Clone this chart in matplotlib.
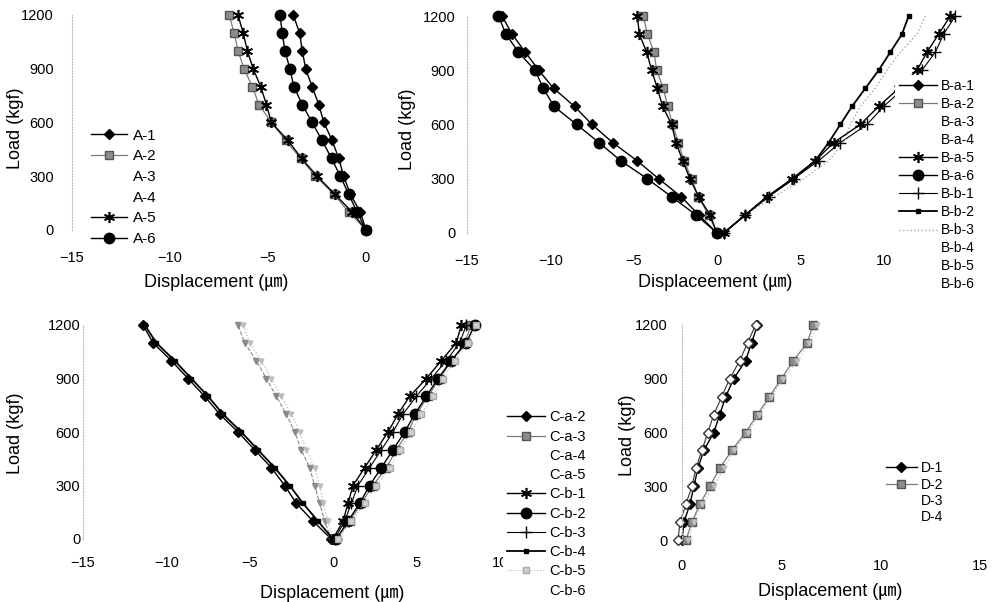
import matplotlib
matplotlib.use("Agg")
import matplotlib.pyplot as plt
from matplotlib.lines import Line2D

plt.rcParams['font.family'] = ['Liberation Sans', 'Noto Sans CJK KR', 'DejaVu Sans']

W, H = 992, 602

# ---------------- data ----------------
loads = [0, 100, 200, 300, 400, 500, 600, 700, 800, 900, 1000, 1100, 1200]
load_ticks = [0, 300, 600, 900, 1200]

# Panel A
a_labels = ['A-1', 'A-2', 'A-3', 'A-4', 'A-5', 'A-6']
a_1 = [0, -0.29, -0.80, -1.14, -1.39, -1.73, -2.15, -2.41, -2.75, -3.08, -3.25, -3.39, -3.71]
a_2 = [0, -0.88, -1.64, -2.58, -3.34, -4.10, -4.83, -5.46, -5.80, -6.22, -6.53, -6.73, -6.98]
a_5 = [0, -0.71, -1.59, -2.49, -3.29, -3.98, -4.83, -5.08, -5.37, -5.76, -6.05, -6.27, -6.53]
a_6 = [0, -0.46, -0.88, -1.31, -1.76, -2.24, -2.75, -3.25, -3.68, -3.88, -4.14, -4.27, -4.39]
a_xticks = [-15, -10, -5, 0]

# Panel B
b_labels = ['B-a-1', 'B-a-2', 'B-a-3', 'B-a-4', 'B-a-5', 'B-a-6',
            'B-b-1', 'B-b-2', 'B-b-3', 'B-b-4', 'B-b-5', 'B-b-6']
b_a1 = [0, -1.10, -2.14, -3.50, -4.80, -6.26, -7.50, -8.55, -9.80, -10.70, -11.50, -12.30, -12.90]
b_a2 = [0, -0.50, -1.12, -1.52, -1.98, -2.32, -2.66, -2.96, -3.22, -3.62, -3.78, -4.18, -4.42]
b_a5 = [0, -0.42, -1.10, -1.62, -2.06, -2.46, -2.72, -3.26, -3.58, -3.92, -4.22, -4.66, -4.78]
b_a6 = [0, -1.26, -2.72, -4.18, -5.78, -7.08, -8.42, -9.78, -10.42, -10.92, -11.92, -12.66, -13.12]
b_b1 = [0.4, 1.7, 3.1, 4.6, 6.1, 7.4, 9.0, 10.0, 11.2, 12.3, 13.1, 13.6, 14.3]
b_b2 = [0.4, 1.7, 3.0, 4.6, 5.9, 6.7, 7.4, 8.1, 8.9, 9.7, 10.4, 11.1, 11.5]
b_b3 = [0.4, 1.7, 3.4, 5.2, 6.7, 7.6, 8.0, 8.6, 9.5, 10.2, 11.0, 12.0, 12.5]
b_b4 = [0.4, 1.7, 3.0, 4.5, 5.9, 7.0, 8.6, 9.7, 10.9, 12.0, 12.6, 13.3, 14.0]
b_xticks = [-15, -10, -5, 0, 5, 10]

# Panel C
c_labels = ['C-a-2', 'C-a-3', 'C-a-4', 'C-a-5', 'C-b-1', 'C-b-2',
            'C-b-3', 'C-b-4', 'C-b-5', 'C-b-6']
c_a2 = [-0.1, -1.2, -2.2, -2.9, -3.7, -4.7, -5.7, -6.8, -7.7, -8.7, -9.7, -10.8, -11.4]
c_b4 = [0.0, -0.9, -1.8, -2.6, -3.5, -4.5, -5.5, -6.6, -7.5, -8.5, -9.5, -10.6, -11.3]
c_a4 = [-0.1, -0.5, -0.8, -1.1, -1.4, -1.9, -2.3, -2.8, -3.4, -4.0, -4.6, -5.3, -5.7]
c_a5 = [0.0, -0.3, -0.6, -0.8, -1.1, -1.6, -2.0, -2.5, -3.1, -3.7, -4.3, -5.0, -5.4]
c_b1 = [0.0, 0.6, 0.9, 1.2, 1.9, 2.6, 3.3, 3.9, 4.6, 5.6, 6.5, 7.4, 7.7]
c_b3 = [0.1, 0.7, 1.1, 1.5, 2.2, 2.9, 3.6, 4.2, 5.0, 5.9, 6.8, 7.6, 8.0]
c_b2 = [0.2, 0.9, 1.6, 2.2, 2.9, 3.6, 4.3, 4.9, 5.6, 6.3, 7.1, 8.0, 8.5]
c_a3 = [0.2, 1.0, 1.7, 2.4, 3.2, 3.8, 4.5, 5.0, 5.7, 6.4, 7.1, 7.9, 8.3]
c_b5 = [0.3, 1.1, 1.9, 2.6, 3.4, 4.0, 4.7, 5.3, 6.0, 6.6, 7.3, 8.1, 8.6]
c_xticks = [-15, -10, -5, 0, 5, 10]

# Panel D
d_labels = ['D-1', 'D-2', 'D-3', 'D-4']
d_1 = [0.0, 0.1, 0.4, 0.6, 0.8, 1.1, 1.6, 1.9, 2.2, 2.6, 3.2, 3.5, 3.8]
d_2 = [0.2, 0.5, 0.9, 1.4, 1.9, 2.5, 3.2, 3.8, 4.4, 5.0, 5.6, 6.3, 6.6]
d_3 = [-0.2, -0.1, 0.2, 0.5, 0.7, 1.0, 1.3, 1.6, 2.0, 2.4, 2.9, 3.3, 3.7]
d_4 = [0.3, 0.6, 1.0, 1.6, 2.1, 2.6, 3.3, 3.9, 4.5, 5.1, 5.8, 6.4, 6.8]
d_xticks = [0, 5, 10, 15]

# ---------------- styles ----------------
ST = {
    'diamond': dict(color='black', marker='D', ms=5.5, lw=1.0),
    'square': dict(color='#7a7a7a', marker='s', ms=6, mfc='#8c8c8c', mec='#555555', lw=0.9),
    'star': dict(color='black', marker=(6, 2, 0), ms=8, mew=1.2, lw=1.0),
    'circle': dict(color='black', marker='o', ms=7.5, lw=1.0),
    'plus': dict(color='black', marker='+', ms=8, mew=1.0, lw=0.8),
    'dash': dict(color='black', marker='s', ms=3.5, lw=1.3),
    'light': dict(color='#a8a8a8', ls=':', lw=1.0),
    'tri': dict(color='#8a8a8a', marker='v', ms=5, ls='--', lw=0.8),
    'faint': dict(color='#bdbdbd', ls=':', lw=0.9, marker='v', ms=3.5),
    'hollow': dict(color='#333333', marker='D', ms=5, mfc='white', mec='#333333', lw=0.8),
    'lightsq': dict(color='#b8b8b8', marker='s', ms=4, mfc='#d0d0d0', mec='#aaaaaa', lw=0.8, ls=':'),
}

fig = plt.figure(figsize=(W / 100, H / 100), dpi=100)


def make_ax(x0, x1, ytop, ybot, xlim, xticks, xpad, ypad):
    ax = fig.add_axes([x0 / W, 1 - ybot / H, (x1 - x0) / W, (ybot - ytop) / H])
    ax.set_xlim(*xlim)
    ax.set_ylim(0, 1200)
    ax.set_xticks(xticks)
    ax.set_yticks(load_ticks)
    ax.tick_params(axis='x', length=0, labelsize=10.5, pad=xpad)
    ax.tick_params(axis='y', length=0, labelsize=10.5, pad=ypad)
    for s in ['top', 'right', 'bottom']:
        ax.spines[s].set_visible(False)
    ax.spines['left'].set_linestyle(':')
    ax.spines['left'].set_color('#bbbbbb')
    ax.spines['left'].set_linewidth(0.8)
    ax.patch.set_alpha(0)
    return ax, (x0, x1, ytop, ybot)


def labels(ax, box, xtext, xl, yl):
    x0, x1, ytop, ybot = box
    ax.set_xlabel(xtext, fontsize=13, va='center', ha='center')
    ax.xaxis.set_label_coords((xl[0] - x0) / (x1 - x0), (ybot - xl[1]) / (ybot - ytop))
    ax.set_ylabel('Load (kgf)', fontsize=13, va='center', ha='center')
    ax.yaxis.set_label_coords((yl[0] - x0) / (x1 - x0), (ybot - yl[1]) / (ybot - ytop))


def draw(ax, names, series):
    handles = []
    for name in names:
        if name in series:
            xs, style = series[name]
            ln, = ax.plot(xs, loads, label=name, clip_on=False, **ST[style])
            handles.append(ln)
        else:
            handles.append(Line2D([], [], color='none', label=name))
    return handles


def legend(ax, handles, x, y, fs, sp, hl, htp, hidden=()):
    hs = [Line2D([], [], color='none', label=h.get_label()) if h.get_label() in hidden else h
          for h in handles]
    leg = ax.legend(handles=hs, loc='upper left', bbox_to_anchor=(x / W, 1 - y / H),
                    bbox_transform=fig.transFigure, fontsize=fs, labelspacing=sp,
                    handlelength=hl, handletextpad=htp, borderpad=0.3,
                    borderaxespad=0, frameon=True, fancybox=False, numpoints=1)
    leg.get_frame().set_facecolor('white')
    leg.get_frame().set_edgecolor('none')
    leg.get_frame().set_alpha(1)
    return leg


UM = 'Displacement (\u339b)'

# ---------------- Panel A ----------------
axA, boxA = make_ax(72, 366, 15, 230, (-15, 0), a_xticks, 15, 13)
hA = draw(axA, a_labels, {'A-1': (a_1, 'diamond'), 'A-2': (a_2, 'square'),
                          'A-5': (a_5, 'star'), 'A-6': (a_6, 'circle')})
labels(axA, boxA, UM, (216, 283), (15, 128))
legend(axA, hA, 86, 124, 11, 0.44, 2.4, 0.4)

# ---------------- Panel B ----------------
axB, boxB = make_ax(467, 967, 16, 233, (-15, 15), b_xticks, 15, 8.5)
hB = draw(axB, b_labels, {'B-a-1': (b_a1, 'diamond'), 'B-a-2': (b_a2, 'square'),
                          'B-a-5': (b_a5, 'star'), 'B-a-6': (b_a6, 'circle'),
                          'B-b-1': (b_b1, 'plus'), 'B-b-2': (b_b2, 'dash'),
                          'B-b-3': (b_b3, 'light'), 'B-b-4': (b_b4, 'star')})
labels(axB, boxB, 'Displaceement (\u339b)', (715, 283), (408, 129))
legend(axB, hB, 895, 75, 10, 0.29, 2.7, 0.3, hidden=('B-b-4',))

# ---------------- Panel C ----------------
axC, boxC = make_ax(83, 583, 325, 539, (-15, 15), c_xticks, 12, 2)
hC = draw(axC, c_labels, {'C-a-2': (c_a2, 'diamond'), 'C-a-3': (c_a3, 'square'),
                          'C-a-4': (c_a4, 'tri'), 'C-a-5': (c_a5, 'faint'),
                          'C-b-1': (c_b1, 'star'), 'C-b-2': (c_b2, 'circle'),
                          'C-b-3': (c_b3, 'plus'), 'C-b-4': (c_b4, 'dash'),
                          'C-b-5': (c_b5, 'lightsq')})
labels(axC, boxC, UM, (332, 593), (15, 433))
legend(axC, hC, 503, 406, 10.5, 0.36, 2.6, 0.3, hidden=('C-a-4', 'C-a-5'))

# ---------------- Panel D ----------------
axD, boxD = make_ax(682, 980, 325, 540, (0, 15), d_xticks, 14, 10)
hD = draw(axD, d_labels, {'D-1': (d_1, 'diamond'), 'D-2': (d_2, 'square'),
                          'D-3': (d_3, 'hollow'), 'D-4': (d_4, 'faint')})
labels(axD, boxD, UM, (830, 592), (628, 435))
legend(axD, hD, 882, 457, 10, 0.17, 2.2, 0.3, hidden=('D-3', 'D-4'))

fig.savefig('out.png', dpi=100)
